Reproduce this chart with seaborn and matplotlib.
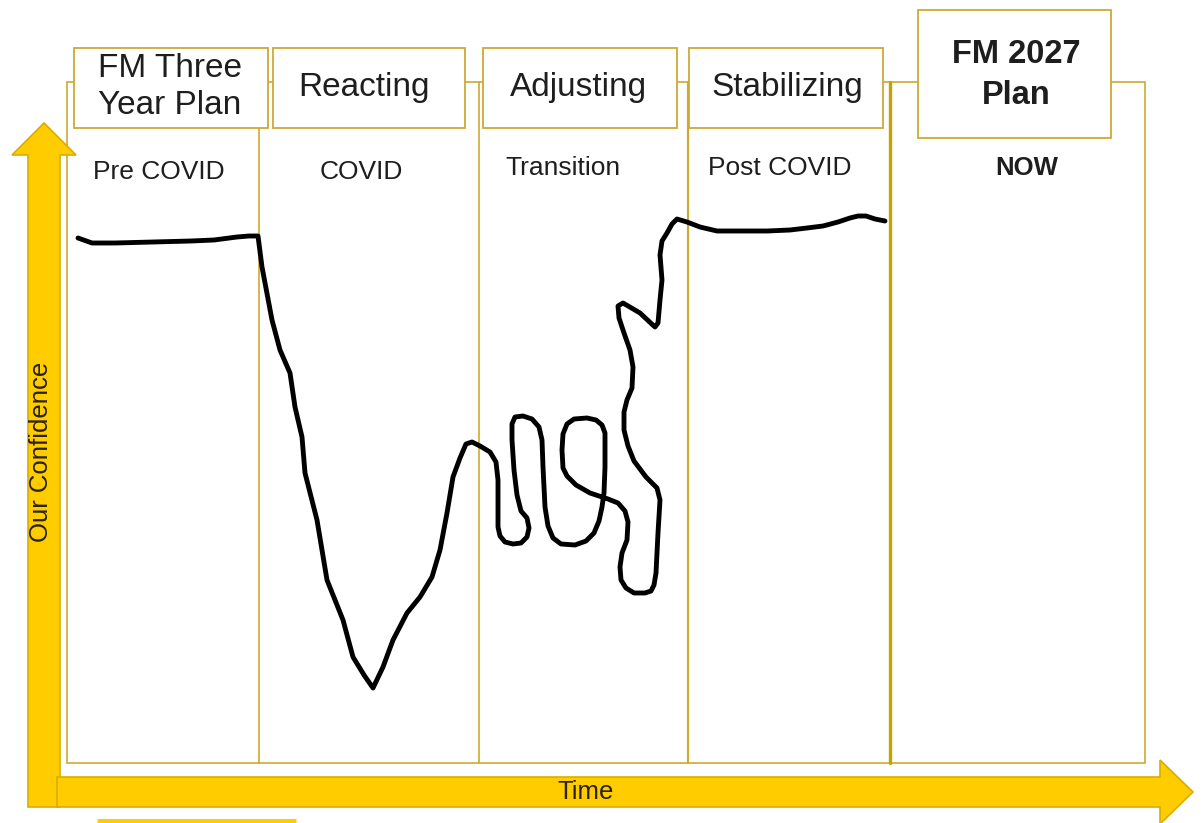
import matplotlib
matplotlib.use("Agg")
import matplotlib.pyplot as plt
import matplotlib.patches as mpatches
import seaborn as sns
import pandas as pd

sns.set_style("white")
plt.rcParams["font.family"] = ["Liberation Sans", "DejaVu Sans"]

# Phases across the top
phase_titles = ["FM Three\nYear Plan", "Reacting", "Adjusting", "Stabilizing", "FM 2027\nPlan"]
phase_labels = ["Pre COVID", "COVID", "Transition", "Post COVID", "NOW"]

# hand drawn confidence line (x = time, y = drawn position, screen units)
conf_x = [78, 92, 115, 153, 191, 214, 237, 249, 258,
          262, 272, 280, 290, 295, 302, 305, 317, 327, 343, 353, 364, 373,
          383, 393, 407, 420, 432, 440, 447, 453, 460, 466, 472, 480, 490, 496,
          498, 498, 500, 505, 513, 521, 527, 529, 527, 521, 517, 514, 512, 512, 515,
          523, 532, 539, 542, 543, 545, 548, 553, 561, 575, 586, 594, 599, 602, 604,
          605, 605, 602, 596, 587, 574, 567, 563, 562, 563, 567, 576, 590, 608, 618,
          625, 628, 627, 622, 620, 621, 626, 634, 645, 651, 654, 656, 658, 660, 657,
          646, 634, 628, 624, 624, 627, 632, 633, 630, 624, 619, 618, 623, 640,
          655, 658, 660, 662, 661, 660, 662, 667, 672, 677, 687, 700, 717,
          733, 767, 790, 807, 823, 838, 850, 858, 866, 875, 885]
conf_y = [238, 243, 243, 242, 241, 240, 237, 236, 236,
          267, 320, 350, 373, 407, 437, 473, 520, 580, 620, 657, 675, 688,
          667, 640, 613, 597, 577, 550, 513, 477, 458, 444, 442, 446, 452, 462,
          480, 527, 536, 542, 544, 543, 537, 528, 518, 511, 495, 470, 440, 424, 417,
          416, 419, 427, 440, 467, 507, 526, 538, 544, 545, 541, 533, 521, 507, 493,
          467, 433, 425, 420, 418, 419, 424, 434, 450, 468, 476, 485, 493, 499, 503,
          511, 522, 540, 553, 567, 580, 588, 593, 593, 591, 585, 573, 533, 500, 488,
          477, 461, 446, 430, 412, 400, 388, 367, 350, 333, 318, 306, 303, 313,
          327, 323, 300, 280, 268, 255, 241, 233, 224, 219, 222, 227, 231,
          231, 231, 230, 228, 226, 222, 218, 216, 216, 219, 221]

gold = "#CDAA35"
yellow = "#FFCC00"
yellow_edge = "#D8AE00"
ink = "#1E1E1E"

fig = plt.figure(figsize=(12.02, 8.23), dpi=100)
ax = fig.add_axes([0, 0, 1, 1])

# outer frame and phase dividers
ax.add_patch(mpatches.Rectangle((67, 82), 1145 - 67, 763 - 82, fill=False,
                                edgecolor=gold, lw=1.2, zorder=1))
for xd, w in [(259, 1.2), (479, 1.2), (688, 1.6), (890, 2.4)]:
    ax.plot([xd, xd], [82, 763], color=gold if w < 2 else "#C9A100", lw=w, zorder=1)

# title boxes
boxes = [(74, 48, 268, 128), (273, 48, 465, 128), (483, 48, 677, 128),
         (689, 48, 883, 128), (918, 10, 1111, 138)]
title_x = [170, 364, 578, 787, 1016]
title_y = [87, 87, 87, 87, 75]
label_y = [172, 172, 168, 168, 168]
label_x = [159, 361, 563, 780, 1027]
for i, (x0, y0, x1, y1) in enumerate(boxes):
    ax.add_patch(mpatches.Rectangle((x0, y0), x1 - x0, y1 - y0, facecolor="white",
                                    edgecolor=gold, lw=1.3, zorder=3))
    bold = i == 4
    ax.text(title_x[i], title_y[i], phase_titles[i], ha="center", va="center",
            fontsize=24 if not bold else 23.5, color=ink,
            fontweight="bold" if bold else "normal",
            linespacing=1.27 if not bold else 1.45, zorder=4)
    ax.text(label_x[i], label_y[i], phase_labels[i], ha="center", va="center",
            fontsize=19 if not bold else 18.5, color=ink,
            fontweight="bold" if bold else "normal", zorder=4)

# confidence curve
curve = pd.DataFrame({"time": conf_x, "conf": conf_y})
sns.lineplot(data=curve, x="time", y="conf", sort=False, estimator=None,
             color="black", lw=3.5, ax=ax, zorder=5,
             solid_joinstyle="round", solid_capstyle="round")
ax.set_xlim(0, 1202)
ax.set_ylim(823, 0)
ax.axis("off")

# vertical axis arrow (Our Confidence)
v_arrow = mpatches.Polygon([(28, 807), (28, 155), (12, 155), (44, 123), (76, 155),
                            (60, 155), (60, 807)], closed=True,
                           facecolor=yellow, edgecolor=yellow_edge, lw=1.2, zorder=2)
ax.add_patch(v_arrow)
ax.text(41, 452, "Our Confidence", rotation=90, ha="center", va="center",
        fontsize=18.5, color="#2A2200", zorder=6)

# horizontal axis arrow (Time)
h_arrow = mpatches.Polygon([(57, 777), (1160, 777), (1160, 760), (1193, 792),
                            (1160, 824), (1160, 807), (57, 807)], closed=True,
                           facecolor=yellow, edgecolor=yellow_edge, lw=1.2, zorder=3)
ax.add_patch(h_arrow)
ax.text(586, 792, "Time", ha="center", va="center", fontsize=18.5,
        color="#2A2200", zorder=6)

# yellow marks
ax.annotate("", xy=(1206, 232), xytext=(905, 228),
            arrowprops=dict(arrowstyle="-|>", color=yellow, lw=2.6,
                            mutation_scale=18, shrinkA=0, shrinkB=0), zorder=2)
ax.plot([97, 296], [821, 821], color=yellow, lw=3.6, solid_capstyle="butt", zorder=2)

fig.savefig("out.png", dpi=100)
